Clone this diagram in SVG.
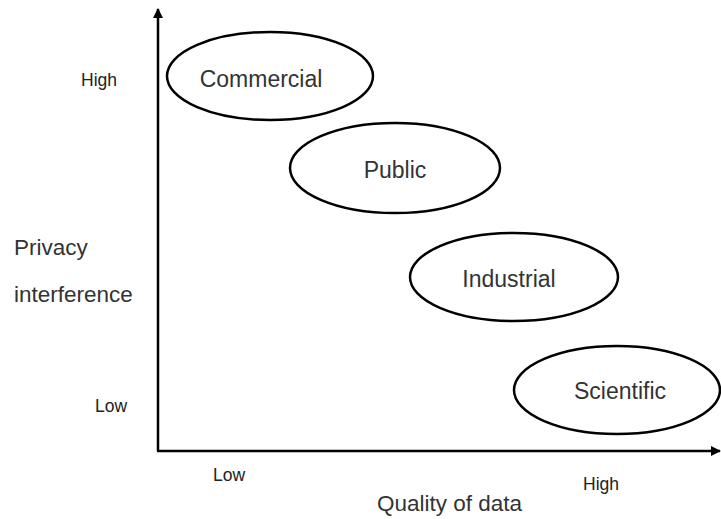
<svg xmlns="http://www.w3.org/2000/svg" width="721" height="519" viewBox="0 0 721 519">
<style>
.node ellipse{fill:none;stroke:#000;stroke-width:2.5}
.lbl{font-family:"Liberation Sans",Arial,sans-serif;font-size:23px;fill:#333;text-anchor:middle}
.small{font-family:"Liberation Sans",Arial,sans-serif;font-size:17.5px;fill:#222}
.big{font-family:"Liberation Sans",Arial,sans-serif;font-size:22.5px;fill:#333}
.axis{stroke:#000;stroke-width:2.5;fill:none}
</style>
<defs>
<marker id="arr" viewBox="0 0 10 10" refX="9" refY="5" markerWidth="4" markerHeight="4" orient="auto" markerUnits="strokeWidth">
<path d="M0,0 L10,5 L0,10 z" fill="#000"/>
</marker>
</defs>
<rect width="721" height="519" fill="#fff"/>
<g id="connectors">
<line class="axis" x1="158" y1="451" x2="158" y2="9" marker-end="url(#arr)"/>
<line class="axis" x1="157" y1="451" x2="720" y2="451" marker-end="url(#arr)"/>
</g>
<g id="commercial" class="node">
<ellipse cx="270" cy="76" rx="103" ry="44"/>
<text class="lbl" x="261" y="87">Commercial</text>
</g>
<g id="public" class="node">
<ellipse cx="395" cy="168" rx="105" ry="45"/>
<text class="lbl" x="395" y="178">Public</text>
</g>
<g id="industrial" class="node">
<ellipse cx="514" cy="277" rx="104" ry="44"/>
<text class="lbl" x="509" y="287">Industrial</text>
</g>
<g id="scientific" class="node">
<ellipse cx="617" cy="390" rx="103" ry="44"/>
<text class="lbl" x="620" y="399">Scientific</text>
</g>
<g id="labels">
<text class="small" x="81" y="86">High</text>
<text class="small" x="95" y="412">Low</text>
<text class="big" x="14" y="255">Privacy</text>
<text class="big" x="14" y="302">interference</text>
<text class="small" x="213" y="481">Low</text>
<text class="small" x="583" y="490">High</text>
<text class="big" x="377" y="511">Quality of data</text>
</g>
</svg>
